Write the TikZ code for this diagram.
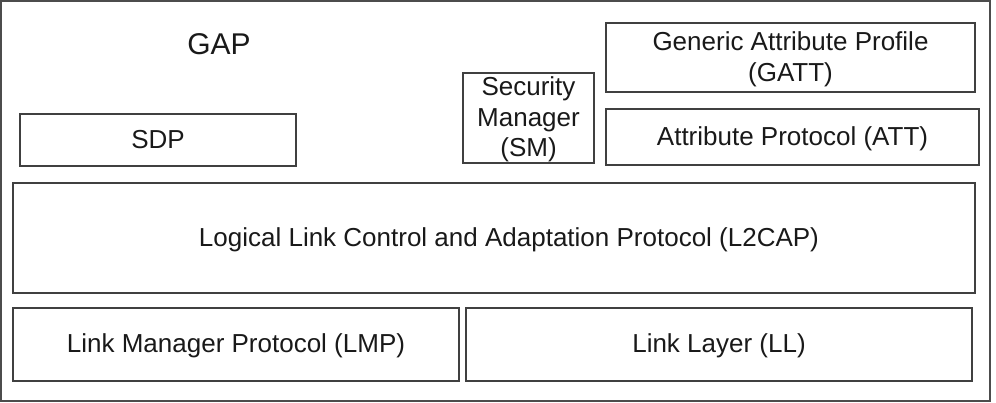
\documentclass[tikz,border=0pt]{standalone}
\usepackage{fontspec}
\setmainfont{Liberation Sans}
\begin{document}
\begin{tikzpicture}[x=1pt,y=-1pt,
  layerbox/.style={draw=black!75,line width=1.6pt,rectangle,inner sep=0pt,align=center,
    font=\fontsize{26}{30.5}\selectfont,text=black!90,text depth=2pt},
  layertext/.style={inner sep=0pt,align=center,font=\fontsize{26}{30.5}\selectfont,text=black!90,text depth=2pt},
  frame/.style={draw=black!70,line width=1.8pt}]
\useasboundingbox (0,0) rectangle (996,403);
\draw[frame] (1,1) rectangle (990,401);
\node[font=\fontsize{30}{36}\selectfont,text=black!90] (gap) at (219,44) {GAP};
\node[layerbox,minimum width=276pt,minimum height=52pt] (sdp) at (158,140) {SDP};
\node[layerbox,minimum width=131pt,minimum height=90pt] (sm) at (528.5,118) {Security\\Manager\\(SM)};
\node[layerbox,minimum width=369pt,minimum height=69pt] (gatt) at (790.5,57.5) {Generic Attribute Profile\\(GATT)};
\node[layerbox,minimum width=373pt,minimum height=56pt] (att) at (792.5,137) {Attribute Protocol (ATT)};
\node[layerbox,minimum width=962pt,minimum height=110pt] (l2cap) at (494,238) {};
\node[layertext] (l2captext) at ([xshift=15pt]l2cap.center) {Logical Link Control and Adaptation Protocol (L2CAP)};
\node[layerbox,minimum width=446pt,minimum height=73pt] (lmp) at (236,344.5) {Link Manager Protocol (LMP)};
\node[layerbox,minimum width=506pt,minimum height=73pt] (ll) at (719,344.5) {Link Layer (LL)};
\end{tikzpicture}
\end{document}
